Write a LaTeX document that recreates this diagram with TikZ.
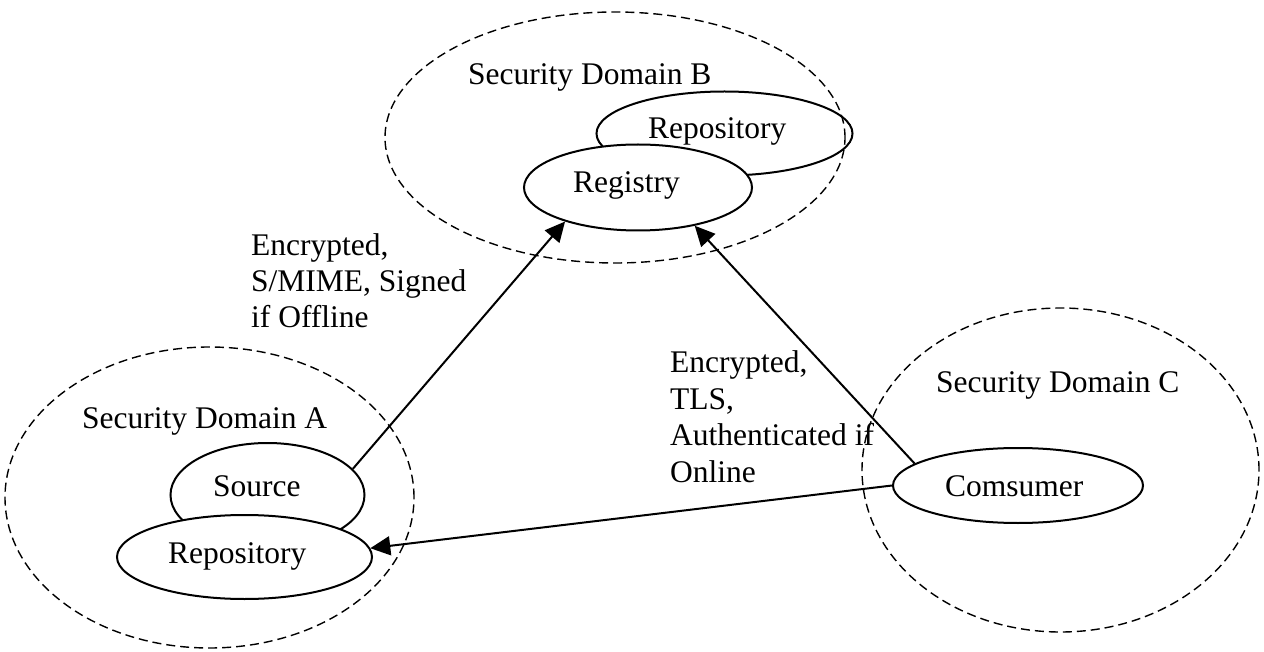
\documentclass[tikz,border=0pt]{standalone}
\usepackage{fontspec}
\setmainfont{Liberation Serif}
\usetikzlibrary{shapes.geometric,arrows.meta}
\begin{document}
\begin{tikzpicture}[x=1pt,y=-1pt,
  secdom/.style={draw, dash pattern=on 9pt off 5pt, line width=1.4pt, ellipse, inner sep=0pt},
  ent/.style={draw, line width=2pt, ellipse, inner sep=0pt},
  txt/.style={inner sep=0pt, anchor=base west, font=\fontsize{31.5}{36.5}\selectfont},
  conn/.style={line width=2pt, -{Triangle[length=20pt,width=19pt]}}]
\useasboundingbox (0,0) rectangle (1264,652);
% security domains
\node[secdom, minimum width=460pt, minimum height=251pt] (domB) at (615,137.5) {};
\node[secdom, minimum width=409pt, minimum height=301pt] (domA) at (209.5,497.5) {};
\node[secdom, minimum width=397pt, minimum height=324pt] (domC) at (1060.5,470) {};
% entities
\node[ent, minimum width=256pt, minimum height=84pt] (repoB) at (724.5,133.5) {};
\node[ent, fill=white, minimum width=228pt, minimum height=86pt] (reg) at (638,187.5) {};
\node[ent, fill=white, minimum width=194pt, minimum height=104pt] (src) at (267.5,495) {};
\node[ent, fill=white, minimum width=255pt, minimum height=84pt] (repoA) at (244.5,557) {};
\node[ent, fill=white, minimum width=250pt, minimum height=75pt] (cons) at (1018,485.5) {};
% texts
\node[txt] (tB) at (468,85) {Security Domain B};
\node[txt] (tA) at (82,428) {Security Domain A};
\node[txt] (tC) at (936,392) {Security Domain C};
\node[txt] (tRepoB) at (648,139) {Repository};
\node[txt] (tReg) at (573,193) {Registry};
\node[txt] (tSrc) at (213,496) {Source};
\node[txt] (tRepoA) at (168,563) {Repository};
\node[txt] (tCons) at (945,496) {Comsumer};
\node[txt, align=left] (lab1) at (251,328) {Encrypted,\\S/MIME, Signed\\if Offline};
\node[txt, align=left] (lab2) at (670,482) {Encrypted,\\TLS,\\Authenticated if\\Online};
% connectors
\draw[conn] (src.17) -- (reg.-155);
\draw[conn] (cons.168) -- (reg.-34);
\draw[conn] (cons.west) -- (repoA.4);
\end{tikzpicture}
\end{document}
